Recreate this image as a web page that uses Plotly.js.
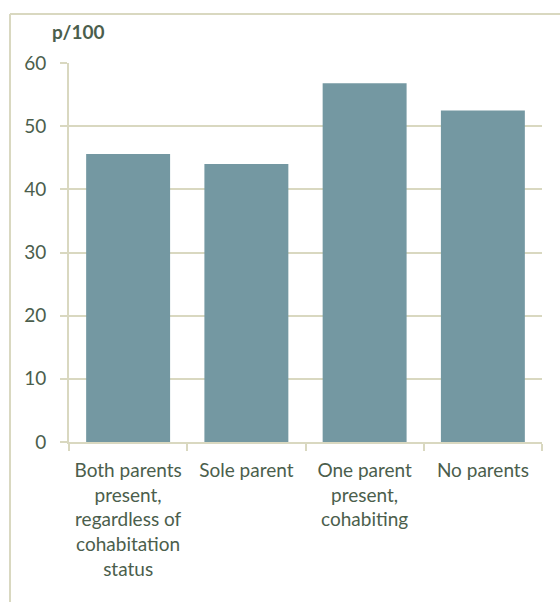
<!DOCTYPE html>
<html>
<head>
<meta charset="utf-8">
<script src="https://cdn.plot.ly/plotly-3.0.1.min.js"></script>
<style>html,body{margin:0;padding:0;background:#fff;}#chart{width:560px;height:602px;}</style>
</head>
<body>
<div id="chart"></div>
<script>
const categories = [
  "Both parents<br>present,<br>regardless of<br>cohabitation<br>status",
  "Sole parent",
  "One parent<br>present,<br>cohabiting",
  "No parents"
];
const values = [45.6, 44.0, 56.8, 52.5];
const yTicks = [0, 10, 20, 30, 40, 50, 60];
const unitLabel = "p/100";

const textColor = "#4B5E4C";
const lineColor = "#D9D8C0";
const font = {family: "Lato, 'Open Sans', sans-serif", size: 19, color: textColor};

const trace = {
  type: "bar",
  x: categories,
  y: values,
  marker: {color: "#7498A2", line: {color: "#7498A2", width: 0}},
  hoverinfo: "none"
};

const layout = {
  width: 560, height: 602,
  margin: {l: 69, r: 18, t: 63, b: 160, pad: 0},
  paper_bgcolor: "#ffffff",
  plot_bgcolor: "#ffffff",
  font: font,
  bargap: 0.29,
  showlegend: false,
  xaxis: {
    type: "category",
    showgrid: false,
    showline: true, linecolor: lineColor, linewidth: 2,
    ticks: "outside", tickson: "boundaries", ticklen: 7, tickcolor: lineColor, tickwidth: 2,
    tickfont: font,
    ticklabelstandoff: 10,
    zeroline: false,
    fixedrange: true
  },
  yaxis: {
    range: [0, 60],
    tickvals: yTicks,
    ticktext: yTicks.map(String),
    showgrid: true, gridcolor: lineColor, gridwidth: 2,
    showline: true, linecolor: lineColor, linewidth: 2,
    ticks: "outside", ticklen: 7, tickcolor: lineColor, tickwidth: 2,
    ticklabelstandoff: 10,
    tickfont: font,
    zeroline: false,
    fixedrange: true
  },
  annotations: [{
    text: "<b>" + unitLabel + "</b>",
    xref: "paper", yref: "paper",
    x: 0.019, y: 1.082, xanchor: "center", yanchor: "middle",
    showarrow: false,
    font: {family: font.family, size: 19, color: textColor}
  }],
  shapes: [
    {type: "line", xref: "paper", yref: "paper", x0: -0.1247, x1: 1.1, y0: 1.1295, y1: 1.1295,
     line: {color: lineColor, width: 2}},
    {type: "line", xref: "paper", yref: "paper", x0: -0.1247, x1: -0.1247, y0: 1.1295, y1: -0.5,
     line: {color: lineColor, width: 2}}
  ]
};

Plotly.newPlot("chart", [trace], layout, {displayModeBar: false, staticPlot: true});
</script>
</body>
</html>
